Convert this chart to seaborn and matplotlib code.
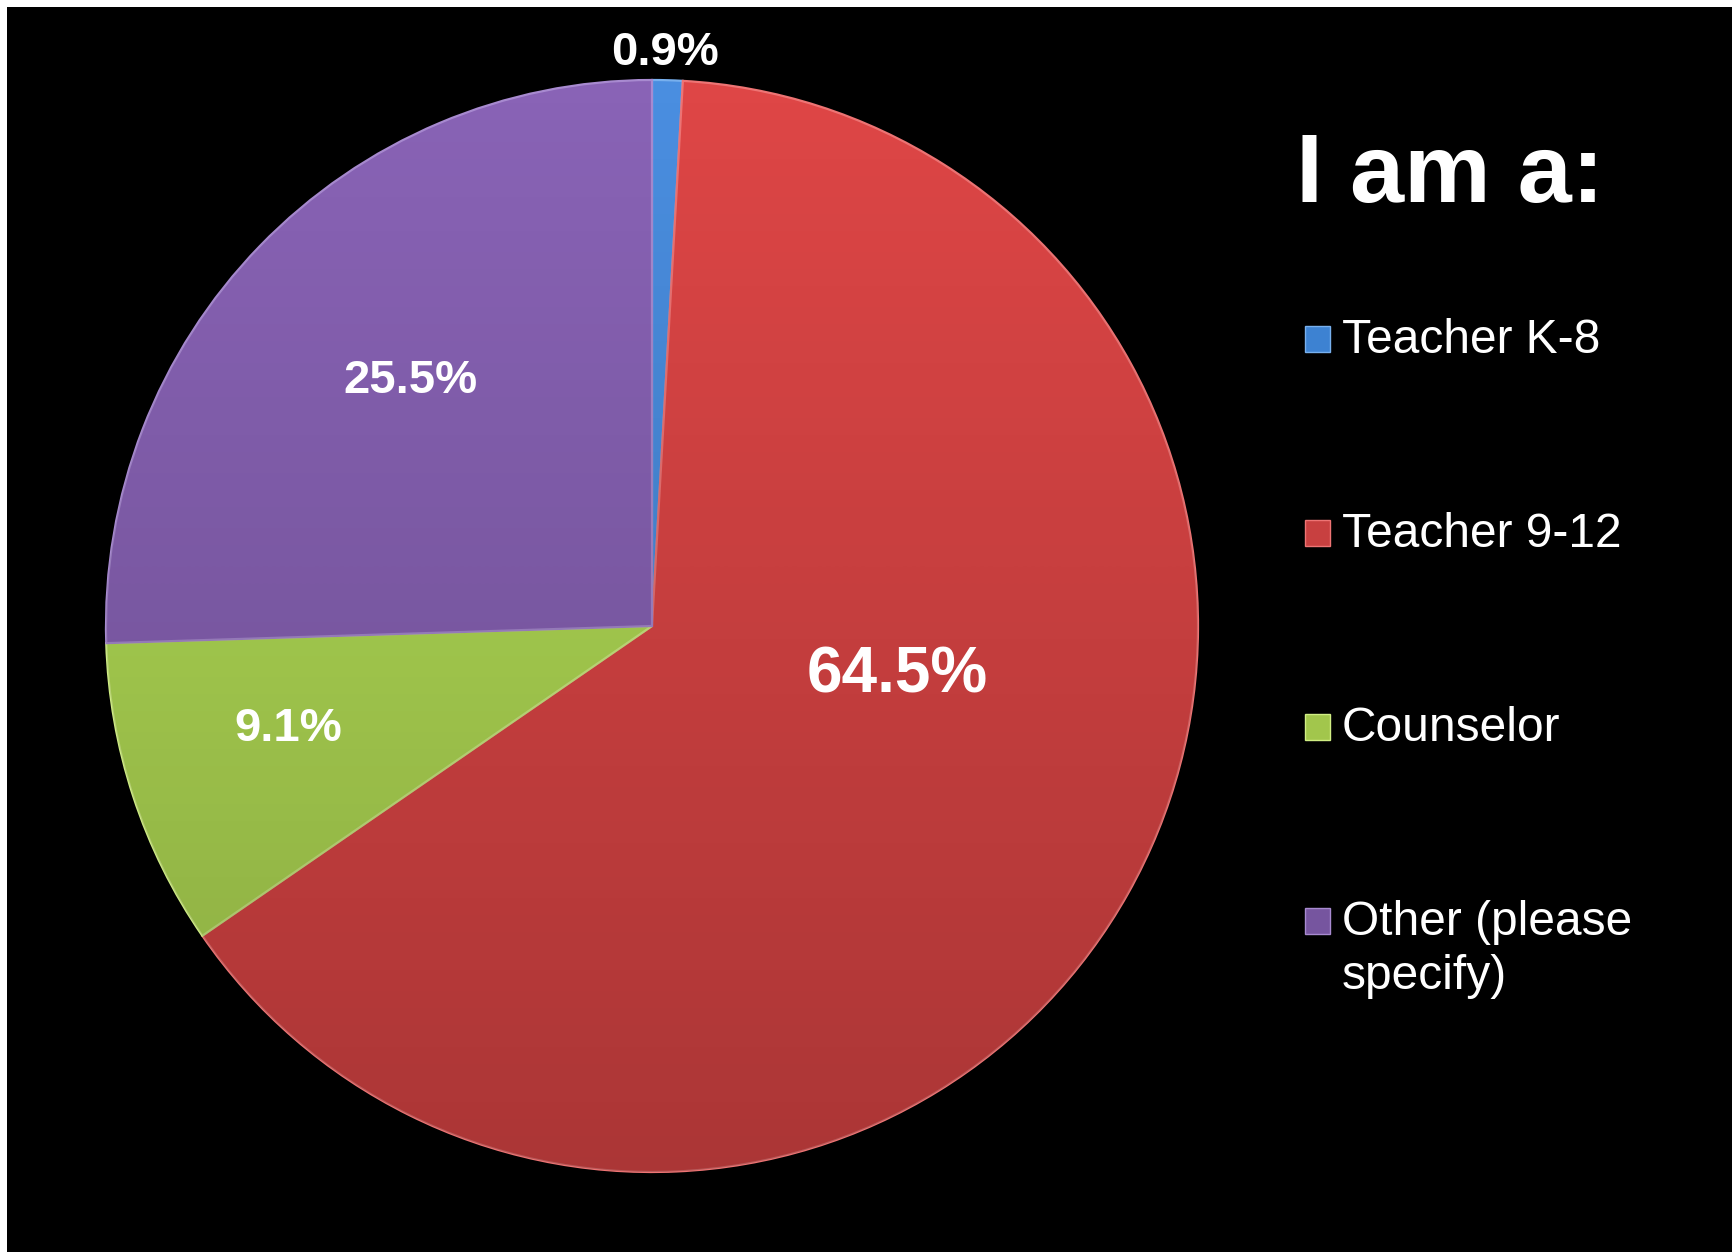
import textwrap
import numpy as np
import matplotlib
matplotlib.use("Agg")
import matplotlib.pyplot as plt
from matplotlib.colors import LinearSegmentedColormap
from matplotlib.patches import Circle, Rectangle
import seaborn as sns

# Survey responses: "I am a:"
title = "I am a:"
categories = ["Teacher K-8", "Teacher 9-12", "Counselor", "Other (please specify)"]
shares = [0.9, 64.5, 9.1, 25.5]
label_texts = ["0.9%", "64.5%", "9.1%", "25.5%"]

colors = ["#4a8ee0", "#de4646", "#b3dd55", "#8963b6"]
edge_colors = ["#78b0ee", "#ee7474", "#d0ee84", "#a88ad0"]
legend_colors = ["#3d82d2", "#c84040", "#a2c64c", "#76559f"]
# where each percentage sits, in pie-radius units from the centre
label_xy = [(0.024, 1.049), (0.449, -0.090), (-0.667, -0.189), (-0.443, 0.448)]
label_sizes = [34, 46, 34, 34]

sns.set_theme(style="dark")
plt.rcParams["font.family"] = ["Liberation Sans", "DejaVu Sans"]

W, H = 1732, 1252
fig = plt.figure(figsize=(W / 100, H / 100), dpi=100)
fig.patch.set_facecolor("white")
fig.patches.append(Rectangle((7 / W, 0), 1 - 7 / W, 1 - 7 / H, transform=fig.transFigure,
                             facecolor="black", edgecolor="none", zorder=-5))

cx, cy, r = 652, 626, 546
ax = fig.add_axes([(cx - r) / W, (H - cy - r) / H, 2 * r / W, 2 * r / H])
ax.set_facecolor("none")
ax.set_axis_off()

wedges, _ = ax.pie(shares, colors=colors, startangle=90, counterclock=False, radius=1,
                   wedgeprops=dict(linewidth=1.6), frame=False)
for w, ec in zip(wedges, edge_colors):
    w.set_edgecolor(ec)

# top-to-bottom darkening over the pie
shade = LinearSegmentedColormap.from_list(
    "shade", [(0, 0, 0, 0.0), (0, 0, 0, 0.23)])
grad = np.linspace(0, 1, 256).reshape(-1, 1)
img = ax.imshow(grad, cmap=shade, extent=(-1, 1, -1, 1), origin="upper",
                aspect="auto", zorder=3, interpolation="bilinear")
img.set_clip_path(Circle((0, 0), 1, transform=ax.transData))

ax.set_xlim(-1, 1)
ax.set_ylim(-1, 1)
ax.set_aspect("equal")

for txt, (x, y), fs in zip(label_texts, label_xy, label_sizes):
    ax.text(x, y, txt, ha="center", va="center", color="white",
            fontsize=fs, fontweight="bold", zorder=5, clip_on=False)

# title and legend on the right
fig.text(1296 / W, 1 - 202 / H, title, color="white", fontsize=70,
         fontweight="bold", ha="left", va="baseline")

for i, (cat, col) in enumerate(zip(categories, legend_colors)):
    base = 353 + i * 194
    fig.patches.append(Rectangle((1305 / W, 1 - (base - 1) / H), 25 / W, 26 / H,
                                 transform=fig.transFigure, facecolor=col,
                                 edgecolor=edge_colors[i], linewidth=1, zorder=3))
    lines = textwrap.wrap(cat, 13)
    for j, line in enumerate(lines):
        fig.text(1342 / W, 1 - (base + j * 54) / H, line, color="white",
                 fontsize=34.5, ha="left", va="baseline")

fig.savefig("out.png", dpi=100, facecolor=fig.get_facecolor())
